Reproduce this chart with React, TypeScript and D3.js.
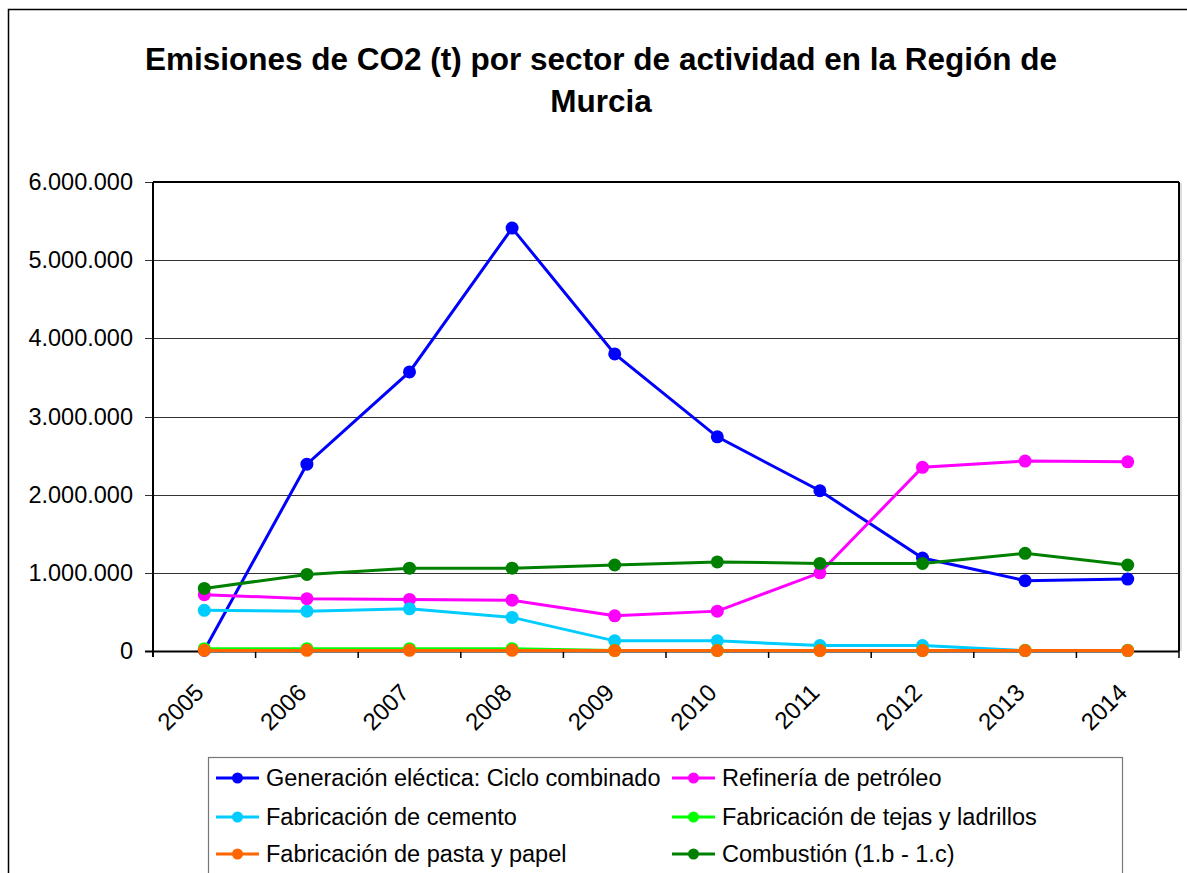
import React from 'react';
import * as d3 from 'd3';

const years = ['2005', '2006', '2007', '2008', '2009', '2010', '2011', '2012', '2013', '2014'];

const generacion = [10000, 2390000, 3570000, 5410000, 3800000, 2740000, 2050000, 1190000, 900000, 920000];
const refineria = [720000, 670000, 660000, 650000, 450000, 510000, 1000000, 2350000, 2430000, 2420000];
const cemento = [520000, 510000, 540000, 430000, 130000, 130000, 70000, 70000, 5000, 5000];
const tejas = [30000, 30000, 30000, 30000, 8000, 8000, 8000, 8000, 8000, 8000];
const pasta = [8000, 8000, 8000, 8000, 5000, 5000, 5000, 5000, 5000, 5000];
const combustion = [800000, 980000, 1060000, 1060000, 1100000, 1140000, 1120000, 1120000, 1250000, 1100000];

const yTicks = [0, 1000000, 2000000, 3000000, 4000000, 5000000, 6000000];

const series = [
  { name: 'Generación eléctica: Ciclo combinado', values: generacion, color: '#0000ff' },
  { name: 'Refinería de petróleo', values: refineria, color: '#ff00ff' },
  { name: 'Fabricación de cemento', values: cemento, color: '#00ccff' },
  { name: 'Fabricación de tejas y ladrillos', values: tejas, color: '#00ff00' },
  { name: 'Fabricación de pasta y papel', values: pasta, color: '#ff6600' },
  { name: 'Combustión (1.b - 1.c)', values: combustion, color: '#008000' },
];

const width = 1187;
const height = 873;
const plot = { left: 153, right: 1179, top: 182, bottom: 651 };
const font = '"Liberation Sans", Arial, sans-serif';

const fmt = (v: number) => (v === 0 ? '0' : d3.format(',')(v).replace(/,/g, '.'));

export default function App() {
  const x = d3.scaleBand<string>().domain(years).range([plot.left, plot.right]);
  const y = d3.scaleLinear().domain([0, 6000000]).range([plot.bottom, plot.top]);
  const cx = (yr: string) => (x(yr) as number) + x.bandwidth() / 2;

  const line = d3
    .line<number>()
    .x((_, i) => cx(years[i]))
    .y((d) => y(d));

  const legend = { left: 208, top: 757, rowY: [778, 817, 854], colX: [216, 672] };

  return (
    <svg
      width={width}
      height={height}
      style={{ position: 'absolute', left: 0, top: 0, background: '#fff' }}
      fontFamily={font}
    >
      <rect x={8.5} y={9.5} width={1200} height={900} fill="#fff" stroke="#000" strokeWidth={1.5} />

      <text x={601} y={70} textAnchor="middle" fontSize={31.5} fontWeight="bold">
        Emisiones de CO2 (t) por sector de actividad en la Región de
      </text>
      <text x={601} y={112} textAnchor="middle" fontSize={31.5} fontWeight="bold">
        Murcia
      </text>

      <g className="grid">
        {yTicks.map((t) => (
          <line
            key={t}
            x1={plot.left - 8}
            x2={plot.right}
            y1={Math.round(y(t)) + 0.5}
            y2={Math.round(y(t)) + 0.5}
            stroke={t === 0 ? '#000' : '#333'}
            strokeWidth={t === 0 ? 2 : 1}
          />
        ))}
        {yTicks.map((t) => (
          <text key={t} x={133} y={y(t) + 8} textAnchor="end" fontSize={23.5}>
            {fmt(t)}
          </text>
        ))}
      </g>

      <g className="axis">
        <line x1={plot.left} x2={plot.right} y1={plot.top} y2={plot.top} stroke="#000" strokeWidth={2} />
        <line x1={plot.right} x2={plot.right} y1={plot.top} y2={plot.bottom} stroke="#000" strokeWidth={2} />
        <line x1={plot.right + 2} x2={plot.right + 2} y1={plot.top + 1} y2={plot.bottom} stroke="#bbb" strokeWidth={1} />
        <line x1={plot.left} x2={plot.left} y1={plot.top} y2={plot.bottom + 6} stroke="#000" strokeWidth={2} />
        {years.map((yr) => (
          <line
            key={yr}
            x1={(x(yr) as number) + x.bandwidth()}
            x2={(x(yr) as number) + x.bandwidth()}
            y1={plot.bottom}
            y2={plot.bottom + 7}
            stroke="#000"
            strokeWidth={1.5}
          />
        ))}
        {years.map((yr) => (
          <text
            key={yr}
            transform={`translate(${cx(yr) + 1},${plot.bottom + 43}) rotate(-45)`}
            textAnchor="end"
            fontSize={24}
          >
            {yr}
          </text>
        ))}
      </g>

      <g className="data">
        {series.map((s) => (
          <g key={s.name}>
            <path d={line(s.values) as string} fill="none" stroke={s.color} strokeWidth={3} />
            {s.values.map((v, i) => (
              <circle key={i} cx={cx(years[i])} cy={y(v)} r={6.5} fill={s.color} />
            ))}
          </g>
        ))}
      </g>

      <g className="legend">
        <rect x={legend.left + 0.5} y={legend.top + 0.5} width={914} height={140} fill="#fff" stroke="#777" strokeWidth={1.2} />
        {series.map((s, i) => {
          const lx = legend.colX[i % 2];
          const ly = legend.rowY[Math.floor(i / 2)];
          return (
            <g key={s.name}>
              <line x1={lx} x2={lx + 43} y1={ly} y2={ly} stroke={s.color} strokeWidth={3} />
              <circle cx={lx + 21.5} cy={ly} r={5.5} fill={s.color} />
              <text x={lx + 50} y={ly + 8} fontSize={23.5}>
                {s.name}
              </text>
            </g>
          );
        })}
      </g>
    </svg>
  );
}
